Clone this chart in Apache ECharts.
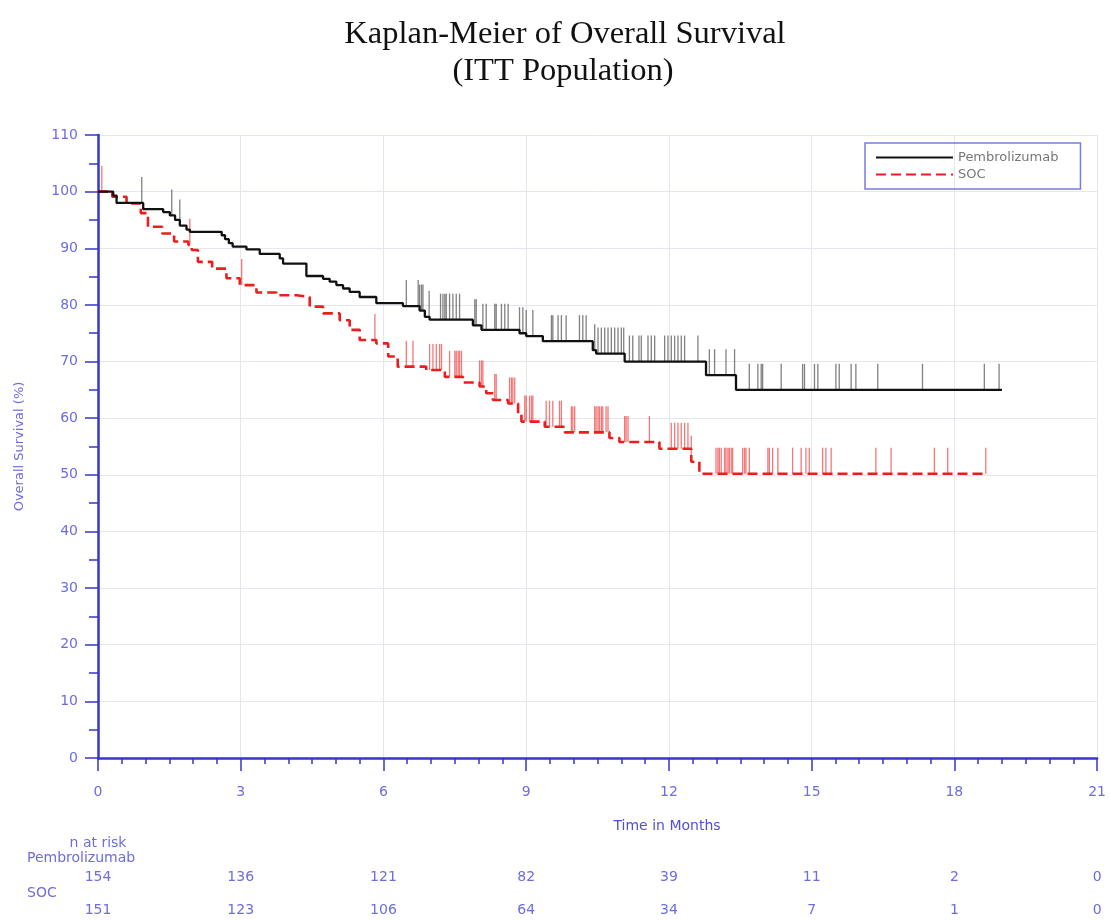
<!DOCTYPE html>
<html><head><meta charset="utf-8">
<script src="https://cdn.jsdelivr.net/npm/echarts@6/dist/echarts.min.js"></script>
<style>html,body{margin:0;padding:0;background:#fff}#c{width:1109px;height:920px}</style>
</head><body><div id="c"></div>
<script>
// ---------- data ----------
const titleLines = ['Kaplan-Meier of Overall Survival', '(ITT Population)'];
const seriesNames = ['Pembrolizumab', 'SOC'];
const xAxisName = 'Time in Months';
const yAxisName = 'Overall Survival (%)';

const pemTime = [0, 0.32, 0.39, 0.95, 1.37, 1.51, 1.62, 1.72, 1.86, 1.93, 2.6, 2.67, 2.75, 2.83, 3.12, 3.40, 3.82, 3.89, 4.38, 4.73, 4.87, 5.01, 5.15, 5.29, 5.50, 5.85, 6.41, 6.76, 6.87, 6.97, 7.88, 8.06, 8.86, 9.00, 9.35, 10.40, 10.47, 11.07, 12.78, 13.41, 19.0];
const pemSurv = [100, 99.3, 98.0, 96.9, 96.4, 95.8, 95.0, 94.0, 93.3, 92.9, 92.3, 91.6, 90.9, 90.3, 89.8, 89.0, 88.2, 87.3, 85.1, 84.6, 84.1, 83.5, 82.9, 82.3, 81.4, 80.3, 79.8, 79.0, 77.9, 77.4, 76.4, 75.6, 75.0, 74.5, 73.6, 72.0, 71.4, 70.0, 67.6, 65.0, 65.0];

const socTime = [0, 0.3, 0.6, 0.9, 1.05, 1.35, 1.6, 1.9, 1.97, 2.1, 2.4, 2.7, 2.98, 3.33, 3.75, 4.17, 4.45, 4.73, 5.08, 5.29, 5.5, 5.85, 6.1, 6.3, 6.9, 7.29, 7.67, 8.02, 8.16, 8.30, 8.62, 8.83, 8.90, 9.39, 9.81, 10.75, 10.96, 11.80, 12.47, 12.64, 18.7];
const socSurv = [100, 99.1, 97.9, 96.2, 93.8, 92.6, 91.2, 90.6, 89.7, 87.6, 86.4, 84.7, 83.5, 82.2, 81.7, 81.4, 79.7, 78.5, 77.3, 75.6, 73.8, 73.2, 70.9, 69.1, 68.5, 67.3, 66.3, 65.6, 64.4, 63.2, 62.6, 60.8, 59.4, 58.5, 57.5, 56.5, 55.8, 54.6, 52.3, 50.2, 50.2];

const pemCensor = [0.92, 1.55, 1.72, 6.48, 6.73, 6.76, 6.80, 6.83, 6.96, 7.20, 7.25, 7.29, 7.32, 7.39, 7.46, 7.53, 7.60, 7.92, 7.95, 8.09, 8.16, 8.34, 8.37, 8.48, 8.55, 8.62, 8.86, 8.93, 9.00, 9.14, 9.53, 9.56, 9.67, 9.74, 9.84, 10.12, 10.19, 10.26, 10.44, 10.51, 10.58, 10.65, 10.72, 10.79, 10.86, 10.93, 11.00, 11.05, 11.17, 11.24, 11.37, 11.42, 11.56, 11.63, 11.70, 11.91, 11.98, 12.05, 12.12, 12.19, 12.26, 12.33, 12.61, 12.85, 12.96, 13.20, 13.38, 13.69, 13.87, 13.94, 13.97, 14.36, 14.81, 14.85, 15.06, 15.13, 15.51, 15.58, 15.83, 15.93, 16.39, 17.33, 18.63, 18.94];
const socCensor = [0.08, 1.93, 3.02, 5.82, 6.48, 6.62, 6.97, 7.04, 7.11, 7.18, 7.22, 7.39, 7.50, 7.53, 7.57, 7.60, 7.64, 8.02, 8.06, 8.09, 8.34, 8.37, 8.65, 8.69, 8.72, 8.76, 8.97, 9.00, 9.07, 9.11, 9.14, 9.42, 9.49, 9.56, 9.70, 9.74, 9.95, 9.98, 10.02, 10.44, 10.47, 10.51, 10.54, 10.58, 10.61, 10.68, 10.72, 11.07, 11.10, 11.14, 11.59, 12.05, 12.12, 12.19, 12.26, 12.33, 12.40, 12.47, 12.99, 13.03, 13.06, 13.10, 13.17, 13.20, 13.24, 13.27, 13.31, 13.34, 13.55, 13.59, 13.62, 13.69, 14.08, 14.11, 14.18, 14.29, 14.60, 14.78, 14.88, 14.95, 15.23, 15.30, 15.41, 16.35, 16.67, 17.58, 17.86, 18.66];

const riskLabel = 'n at risk';
const riskTimes = [0, 3, 6, 9, 12, 15, 18, 21];
const pemRisk = [154, 136, 121, 82, 39, 11, 2, 0];
const socRisk = [151, 123, 106, 64, 34, 7, 1, 0];

// ---------- helpers ----------
function zip(a, b) { return a.map((v, i) => [v, b[i]]); }
function survAt(times, surv, t) {
  let v = surv[0];
  for (let i = 0; i < times.length; i++) { if (times[i] <= t) v = surv[i]; else break; }
  return v;
}

const AX = '#3636c8';
const LBL = '#6c6ce4';
const SANS = 'DejaVu Sans';

const chart = echarts.init(document.getElementById('c'), null, { renderer: 'canvas' });
chart.setOption({
  animation: false,
  backgroundColor: '#ffffff',
  grid: { left: 98, right: 11, top: 135, bottom: 162, containLabel: false },
  legend: {
    data: seriesNames, orient: 'vertical', left: 865, top: 143,
    itemWidth: 77, itemHeight: 12, itemGap: 4, itemTextGap: 6,
    padding: [8, 22, 8, 10],
    borderColor: '#7a7ae0', borderWidth: 1.5,
    itemStyle: { opacity: 0 },
    textStyle: { fontSize: 13, color: '#777', fontFamily: SANS }
  },
  xAxis: {
    type: 'value', min: 0, max: 21, interval: 3,
    axisLine: { onZero: false, lineStyle: { color: AX, width: 2.5 } },
    axisTick: { length: 13, lineStyle: { color: AX, width: 1.5 } },
    minorTick: { show: true, splitNumber: 6, length: 6, lineStyle: { color: AX, width: 1.5 } },
    axisLabel: { margin: 27, color: LBL, fontSize: 14, fontFamily: SANS },
    splitLine: { show: true, lineStyle: { color: '#e6e6ee', width: 1 } }
  },
  yAxis: {
    type: 'value', min: 0, max: 110, interval: 10,
    name: yAxisName, nameLocation: 'middle', nameGap: 72, nameRotate: 90,
    nameTextStyle: { color: LBL, fontSize: 13, fontFamily: SANS },
    axisLine: { show: true, onZero: false, lineStyle: { color: AX, width: 2.5 } },
    axisTick: { show: true, length: 13, lineStyle: { color: AX, width: 1.5 } },
    minorTick: { show: true, splitNumber: 2, length: 9, lineStyle: { color: AX, width: 1.5 } },
    axisLabel: { margin: 20, color: LBL, fontSize: 14, fontFamily: SANS },
    splitLine: { show: true, lineStyle: { color: '#e6e6ee', width: 1 } }
  },
  series: [
    { name: seriesNames[0], type: 'line', step: 'end', symbol: 'none', z: 4,
      data: zip(pemTime, pemSurv), itemStyle: { color: '#111' },
      lineStyle: { color: '#111', width: 2.3 } },
    { name: seriesNames[1], type: 'line', step: 'end', symbol: 'none', z: 3,
      data: zip(socTime, socSurv), itemStyle: { color: '#ee1c1c' },
      lineStyle: { color: '#ee1c1c', width: 2.6, type: [10, 5] } },
    { name: 'pemCensor', type: 'scatter', silent: true, symbol: 'rect',
      symbolSize: [1.3, 26], symbolOffset: [0, -13], z: 2,
      itemStyle: { color: 'rgba(30,30,30,0.7)' },
      data: pemCensor.map(t => [t, survAt(pemTime, pemSurv, t)]) },
    { name: 'socCensor', type: 'scatter', silent: true, symbol: 'rect',
      symbolSize: [1.3, 26], symbolOffset: [0, -13], z: 2,
      itemStyle: { color: 'rgba(235,30,30,0.75)' },
      data: socCensor.map(t => [t, survAt(socTime, socSurv, t)]) }
  ]
});

// graphics: title, x axis name, risk table (x from the axis scale)
const g = [];
const TF = '32.5px "Liberation Serif"';
g.push({ type: 'text', x: 565, y: 34, style: { text: titleLines[0], font: TF, fill: '#111', textAlign: 'center', textVerticalAlign: 'middle' } });
g.push({ type: 'text', x: 563, y: 71, style: { text: titleLines[1], font: TF, fill: '#111', textAlign: 'center', textVerticalAlign: 'middle' } });
g.push({ type: 'text', x: 667, y: 826, style: { text: xAxisName, font: '14px "DejaVu Sans"', fill: '#5050d8', textAlign: 'center', textVerticalAlign: 'middle' } });
const x0 = chart.convertToPixel({ xAxisIndex: 0 }, 0);
g.push({ type: 'text', x: x0, y: 843, style: { text: riskLabel, font: '14px "DejaVu Sans"', fill: LBL, textAlign: 'center', textVerticalAlign: 'middle' } });
g.push({ type: 'text', x: 27, y: 858, style: { text: seriesNames[0], font: '14px "DejaVu Sans"', fill: LBL, textAlign: 'left', textVerticalAlign: 'middle' } });
g.push({ type: 'text', x: 27, y: 893, style: { text: seriesNames[1], font: '14px "DejaVu Sans"', fill: LBL, textAlign: 'left', textVerticalAlign: 'middle' } });
riskTimes.forEach((t, i) => {
  const px = chart.convertToPixel({ xAxisIndex: 0 }, t);
  g.push({ type: 'text', x: px, y: 877, style: { text: String(pemRisk[i]), font: '14px "DejaVu Sans"', fill: LBL, textAlign: 'center', textVerticalAlign: 'middle' } });
  g.push({ type: 'text', x: px, y: 910, style: { text: String(socRisk[i]), font: '14px "DejaVu Sans"', fill: LBL, textAlign: 'center', textVerticalAlign: 'middle' } });
});
chart.setOption({ graphic: g });
</script>
</body></html>
